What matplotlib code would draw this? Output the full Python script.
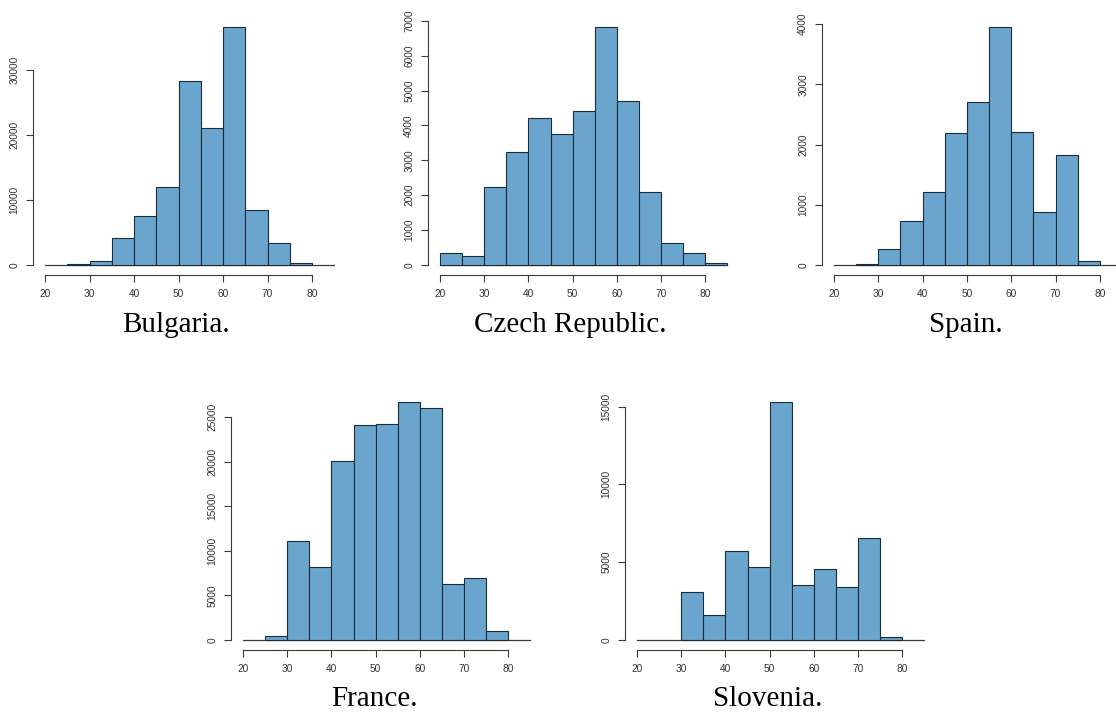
import matplotlib
matplotlib.use("Agg")
import matplotlib.pyplot as plt
from matplotlib import font_manager
import numpy as np

# Age bins (5-year width) shared by every country
bin_edges = [20, 25, 30, 35, 40, 45, 50, 55, 60, 65, 70, 75, 80, 85]

# Counts per bin, one list per country (aligned with bin_edges[:-1])
bulgaria = [0, 100, 600, 4100, 7550, 12050, 28250, 21050, 36650, 8450, 3350, 350, 0]
czech = [340, 250, 2225, 3230, 4210, 3760, 4410, 6820, 4690, 2100, 620, 340, 70]
spain = [0, 15, 260, 725, 1210, 2200, 2710, 3960, 2215, 875, 1825, 65, 0]
france = [0, 450, 11150, 8200, 20050, 24150, 24300, 26700, 26100, 6250, 6950, 980, 0]
slovenia = [0, 0, 3100, 1600, 5700, 4700, 15300, 3520, 4550, 3380, 6560, 170, 0]

titles = ["Bulgaria.", "Czech Republic.", "Spain.", "France.", "Slovenia."]
series = [bulgaria, czech, spain, france, slovenia]
y_ticks = [
    [0, 10000, 20000, 30000],
    [0, 1000, 2000, 3000, 4000, 5000, 6000, 7000],
    [0, 1000, 2000, 3000, 4000],
    [0, 5000, 10000, 15000, 20000, 25000],
    [0, 5000, 10000, 15000],
]
x_ticks = [20, 30, 40, 50, 60, 70, 80]


def regular_font(name):
    """Return FontProperties for the plain regular face of a family."""
    for f in font_manager.fontManager.ttflist:
        base = f.fname.split("/")[-1].lower()
        if f.name == name and f.style == "normal" and f.weight in (400, "normal") \
                and "narrow" not in base:
            return font_manager.FontProperties(fname=f.fname, size=7.3)
    return font_manager.FontProperties(family="DejaVu Sans", size=7)


tick_font = regular_font("Liberation Sans")

W, H = 1116, 713
fig = plt.figure(figsize=(W / 100, H / 100), dpi=100)
fig.patch.set_facecolor("white")

# panel geometry in pixels: x of age 20, px per age unit, y of zero, px per count, y-limit
panels = [
    (45, 4.45, 265, 0.0065, 38000),
    (440, 4.42, 265, 0.0349, 7000),
    (834, 4.43, 265, 0.0602, 4000),
    (243, 4.42, 640, 0.008907, 27000),
    (637, 4.42, 640, 0.01556, 15500),
]
title_pos = [(176, 332), (570, 332), (966, 332), (374, 706), (768, 706)]

bar_color = "#6aa5cd"
edge_color = "#1c2b38"
axis_color = "#3a3a3a"

edges = np.array(bin_edges, dtype=float)
lefts = edges[:-1]
widths = np.diff(edges)

for vals, ttl, yt, (x20, s, y0, k, ytop), (tx, ty) in zip(
        series, titles, y_ticks, panels, title_pos):
    left = x20 / W
    width = 65 * s / W
    bottom = (H - y0) / H
    height = ytop * k / H
    ax = fig.add_axes([left, bottom, width, height])
    ax.set_xlim(20, 85)
    ax.set_ylim(0, ytop)
    ax.patch.set_alpha(0)

    ax.plot([20, 85], [0, 0], color=axis_color, lw=0.9, clip_on=False, zorder=1)
    v = np.array(vals, dtype=float)
    mask = v > 0
    ax.bar(lefts[mask], v[mask], width=widths[mask], align="edge",
           color=bar_color, edgecolor=edge_color, linewidth=0.8,
           clip_on=False, zorder=2)

    for side in ("top", "right"):
        ax.spines[side].set_visible(False)
    ax.spines["left"].set_position(("outward", 8.6))
    ax.spines["bottom"].set_position(("outward", 7.2))
    ax.spines["left"].set_bounds(yt[0], yt[-1])
    ax.spines["bottom"].set_bounds(20, 80)
    for side in ("left", "bottom"):
        ax.spines[side].set_color(axis_color)
        ax.spines[side].set_linewidth(0.8)

    ax.set_xticks(x_ticks)
    ax.set_xticklabels([str(t) for t in x_ticks], fontproperties=tick_font)
    ax.set_yticks(yt)
    ax.set_yticklabels([str(t) for t in yt], rotation=90, va="center",
                       fontproperties=tick_font)
    ax.tick_params(axis="both", direction="out", length=5, width=0.8,
                   color=axis_color, labelcolor="#333333")
    ax.tick_params(axis="x", pad=5)
    ax.tick_params(axis="y", pad=5)

    fig.text(tx / W, 1 - ty / H, ttl, ha="center", va="baseline",
             fontsize=21, fontfamily="Liberation Serif", color="black")

fig.savefig("out.png", dpi=100)
